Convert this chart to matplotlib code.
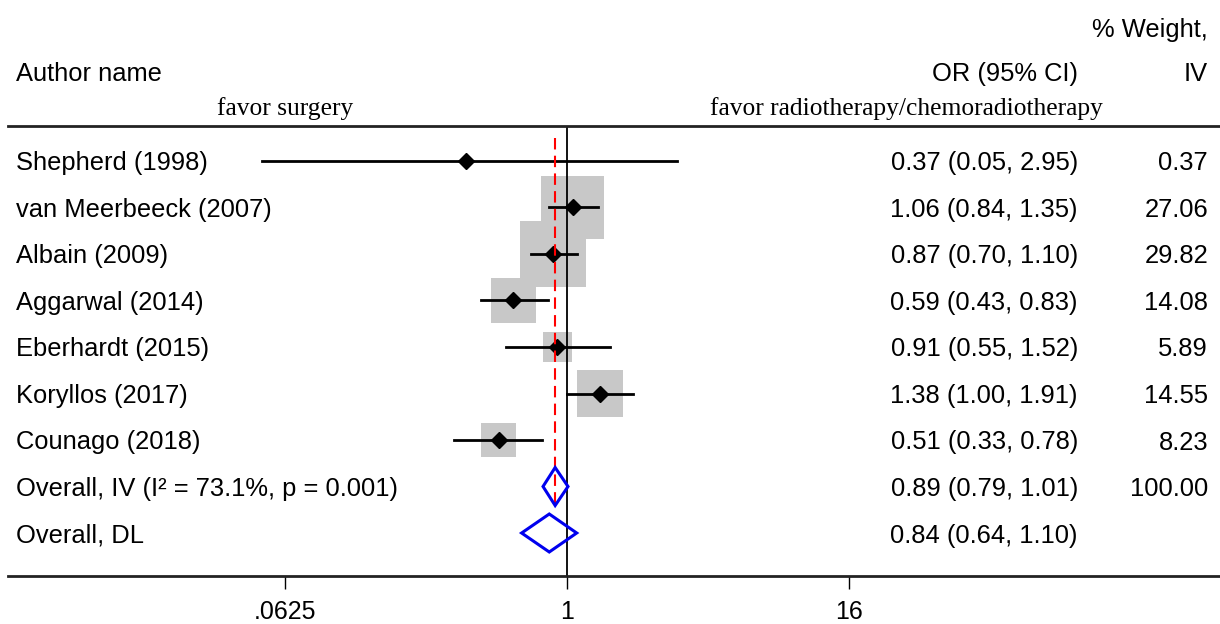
import matplotlib
matplotlib.use("Agg")
import matplotlib.pyplot as plt
from matplotlib.patches import Polygon
import numpy as np

plt.rcParams['font.family'] = ['Liberation Sans', 'DejaVu Sans']

# ---- data ----
studies = ["Shepherd (1998)", "van Meerbeeck (2007)", "Albain (2009)", "Aggarwal (2014)",
           "Eberhardt (2015)", "Koryllos (2017)", "Counago (2018)"]
or_est = [0.37, 1.06, 0.87, 0.59, 0.91, 1.38, 0.51]
ci_lo = [0.05, 0.84, 0.70, 0.43, 0.55, 1.00, 0.33]
ci_hi = [2.95, 1.35, 1.10, 0.83, 1.52, 1.91, 0.78]
weights = [0.37, 27.06, 29.82, 14.08, 5.89, 14.55, 8.23]

overall_labels = ["Overall, IV (I\u00b2 = 73.1%, p = 0.001)", "Overall, DL"]
overall_est = [0.89, 0.84]
overall_lo = [0.79, 0.64]
overall_hi = [1.01, 1.10]
overall_weight = ["100.00", ""]

xticks = [0.0625, 1, 16]
xticklabels = [".0625", "1", "16"]

# ---- layout ----
W, H = 1220, 624
fig = plt.figure(figsize=(W / 100, H / 100), dpi=100)
ax_top, ax_bot = 126, 576
ax = fig.add_axes([8 / W, (H - ax_bot) / H, (W - 8) / W, (ax_bot - ax_top) / H])
ax.set_xscale('log', base=2)
px_per_log2 = 70.5
x1_px = 567
ax.set_xlim(2 ** ((8 - x1_px) / px_per_log2), 2 ** ((W - x1_px) / px_per_log2))
ax.set_ylim(ax_bot, ax_top)  # pixel-like row coordinates

for s in ['left', 'right']:
    ax.spines[s].set_visible(False)
for s in ['top', 'bottom']:
    ax.spines[s].set_linewidth(2.0)
    ax.spines[s].set_color('#222222')
ax.set_yticks([])
ax.set_xticks(xticks)
ax.set_xticklabels(xticklabels, fontsize=18, family=['Liberation Sans Narrow', 'Liberation Sans'])
ax.minorticks_off()
ax.tick_params(axis='x', direction='out', length=9, width=1, pad=8)

row0, dy = 161, 46.5
rows = [row0 + dy * i for i in range(len(studies))]
orows = [row0 + dy * (len(studies) + i) for i in range(len(overall_labels))]

# null line
ax.plot([1, 1], [ax_top, ax_bot], color='black', lw=1.3, zorder=2)
# overall (IV) dashed line
ax.plot([overall_est[0], overall_est[0]], [ax_top + 12, orows[0] + 18],
        color='red', lw=1.5, ls=(0, (5.5, 3)), zorder=5)

# weight boxes
k = (12.1 * 0.72) ** 2
ax.scatter(or_est, rows, s=[k * w for w in weights], marker='s',
           color='#c8c8c8', edgecolor='none', zorder=1)
# CIs
for y, lo, hi, e in zip(rows, ci_lo, ci_hi, or_est):
    ax.plot([lo, hi], [y, y], color='black', lw=2, zorder=3)
ax.plot(or_est, rows, ls='none', marker='D', ms=8, color='black', zorder=4)

# overall diamonds
for y, lo, hi, e in zip(orows, overall_lo, overall_hi, overall_est):
    poly = Polygon([[lo, y], [e, y - 19], [hi, y], [e, y + 19]], closed=True,
                   fill=False, edgecolor='#0000ee', lw=2.2, zorder=6)
    ax.add_patch(poly)

fs = 18.4
tr = ax.get_yaxis_transform()  # x in axes, y in data
def fx(px):
    return (px - 8) / (W - 8)

def txt(px, y, s, ha, **kw):
    ax.text(fx(px), y, s, transform=tr, fontsize=fs, va='center_baseline', ha=ha,
            clip_on=False, **kw)

for y, lab, e, lo, hi, w in zip(rows, studies, or_est, ci_lo, ci_hi, weights):
    txt(16, y, lab, 'left')
    txt(1078, y, f"{e:.2f} ({lo:.2f}, {hi:.2f})", 'right')
    txt(1208, y, f"{w:.2f}", 'right')
for y, lab, e, lo, hi, w in zip(orows, overall_labels, overall_est, overall_lo, overall_hi, overall_weight):
    txt(16, y, lab, 'left')
    txt(1078, y, f"{e:.2f} ({lo:.2f}, {hi:.2f})", 'right')
    if w:
        txt(1208, y, w, 'right')

# headers
txt(1208, 28, "% Weight,", 'right')
txt(16, 72, "Author name", 'left')
txt(1078, 72, "OR (95% CI)", 'right')
txt(1208, 72, "IV", 'right')
txt(285, 106, "favor surgery", 'center', family=['Liberation Serif'])
txt(906, 106, "favor radiotherapy/chemoradiotherapy", 'center', family=['Liberation Serif'])

fig.savefig("out.png", dpi=100)
